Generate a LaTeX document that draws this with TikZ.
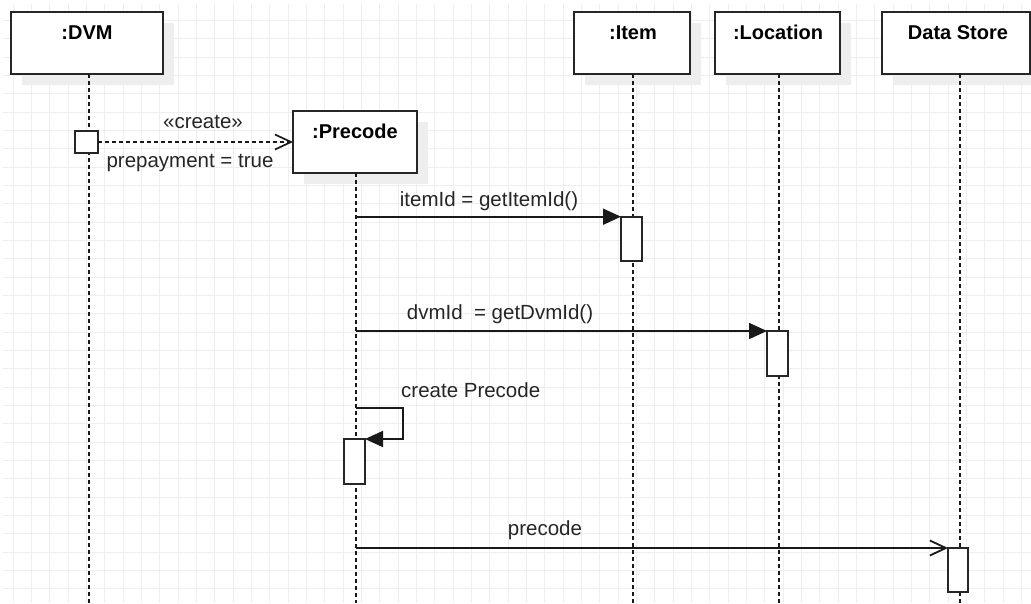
\documentclass[tikz,border=0pt]{standalone}
\usepackage{fontspec}
\setmainfont{Liberation Sans}
\usetikzlibrary{arrows.meta,shadows}
\definecolor{gridc}{HTML}{EEEEEE}
\definecolor{shadowc}{HTML}{EEEEEE}
\definecolor{txt}{HTML}{262626}
\begin{document}
\begin{tikzpicture}[x=1pt,y=-1pt,
  objbox/.style={draw=black!85, line width=1.9pt, fill=white, inner sep=0pt, outer sep=0pt,
    minimum height=62pt, general shadow={fill=shadowc, shadow xshift=11pt, shadow yshift=-11pt}},
  actbox/.style={draw=black!85, line width=1.8pt, fill=white, inner sep=0pt, outer sep=0pt},
  title/.style={anchor=base, inner sep=0pt, font=\fontsize{20}{24}\selectfont\bfseries, text=black},
  lbl/.style={anchor=base, inner sep=0pt, font=\fontsize{20.5}{24}\selectfont, text=txt},
  lifeline/.style={draw=black!90, line width=1.7pt, dash pattern=on 4pt off 3pt},
  syncmsg/.style={draw=black!90, line width=1.8pt, -{Triangle[length=18pt,width=16pt]}},
  replymsg/.style={draw=black!90, line width=1.8pt, -{Straight Barb[length=16pt,width=15pt]}},
  createmsg/.style={draw=black!90, line width=1.7pt, dash pattern=on 4pt off 3pt, -{Straight Barb[length=16pt,width=15pt]}}
]
\useasboundingbox (0,0) rectangle (1031,603);
\fill[white] (0,0) rectangle (1031,603);
% grid
\foreach \i in {0,...,55} \draw[gridc,line width=1pt] ({13.33+18.33*\i},4) -- ({13.33+18.33*\i},603);
\foreach \k in {1,...,32} \draw[gridc,line width=1pt] (3.3,{2.2+18.33*\k}) -- (1031,{2.2+18.33*\k});

% object boxes
\node[objbox, minimum width=152pt] (dvm) at (87,43) {};
\node[objbox, minimum width=124pt] (precode) at (355,142) {};
\node[objbox, minimum width=116pt] (item) at (632,43) {};
\node[objbox, minimum width=125pt] (location) at (777.5,43) {};
\node[objbox, minimum width=148pt] (store) at (956,43) {};

\node[title] (dvmT) at (87,39) {:DVM};
\node[title] (precodeT) at (355,138.3) {:Precode};
\node[title] (itemT) at (633,39) {:Item};
\node[title] (locationT) at (778,39) {:Location};
\node[title] (storeT) at (958,39) {Data Store};

% lifeline ends
\coordinate (dvmL) at (89,603);
\coordinate (preL) at (356,603);
\coordinate (itemL) at (633,603);
\coordinate (locL) at (779,603);
\coordinate (storeL) at (960,603);

\draw[lifeline] (dvm.south -| dvmL) -- (dvmL);
\draw[lifeline] (precode.south -| preL) -- (preL);
\draw[lifeline] (item.south -| itemL) -- (itemL);
\draw[lifeline] (location.south -| locL) -- (locL);
\draw[lifeline] (store.south -| storeL) -- (storeL);

% activations
\node[actbox, minimum width=23pt, minimum height=22pt] (dvmA) at (86.5,142) {};
\node[actbox, minimum width=21pt, minimum height=44pt] (itemA) at (631.5,238.7) {};
\node[actbox, minimum width=21pt, minimum height=45pt] (locA) at (777.5,353.5) {};
\node[actbox, minimum width=21pt, minimum height=45pt] (preA) at (354.5,461.5) {};
\node[actbox, minimum width=20pt, minimum height=44pt] (storeA) at (958,570) {};

% messages
\draw[createmsg] (dvmA.east) -- (precode.west);
\node[lbl] (createL) at (203,128.3) {«create»};
\node[lbl] (prepayL) at (190,167) {prepayment = true};

\draw[syncmsg] (itemA.north west -| preL) -- (itemA.north west);
\node[lbl] (itemIdL) at (489,206.5) {itemId = getItemId()};

\draw[syncmsg] (locA.north west -| preL) -- (locA.north west);
\node[lbl] (dvmIdL) at (500,319.3) {dvmId \ = getDvmId()};

\coordinate (selfTop) at (403,408);
\draw[syncmsg] (selfTop -| preL) -- (selfTop) |- (preA.north east);
\node[lbl] (selfL) at (470.7,397.3) {create Precode};

\draw[replymsg] (storeA.north west -| preL) -- (storeA.north west);
\node[lbl] (precodeL) at (545,535.7) {precode};
\end{tikzpicture}
\end{document}
